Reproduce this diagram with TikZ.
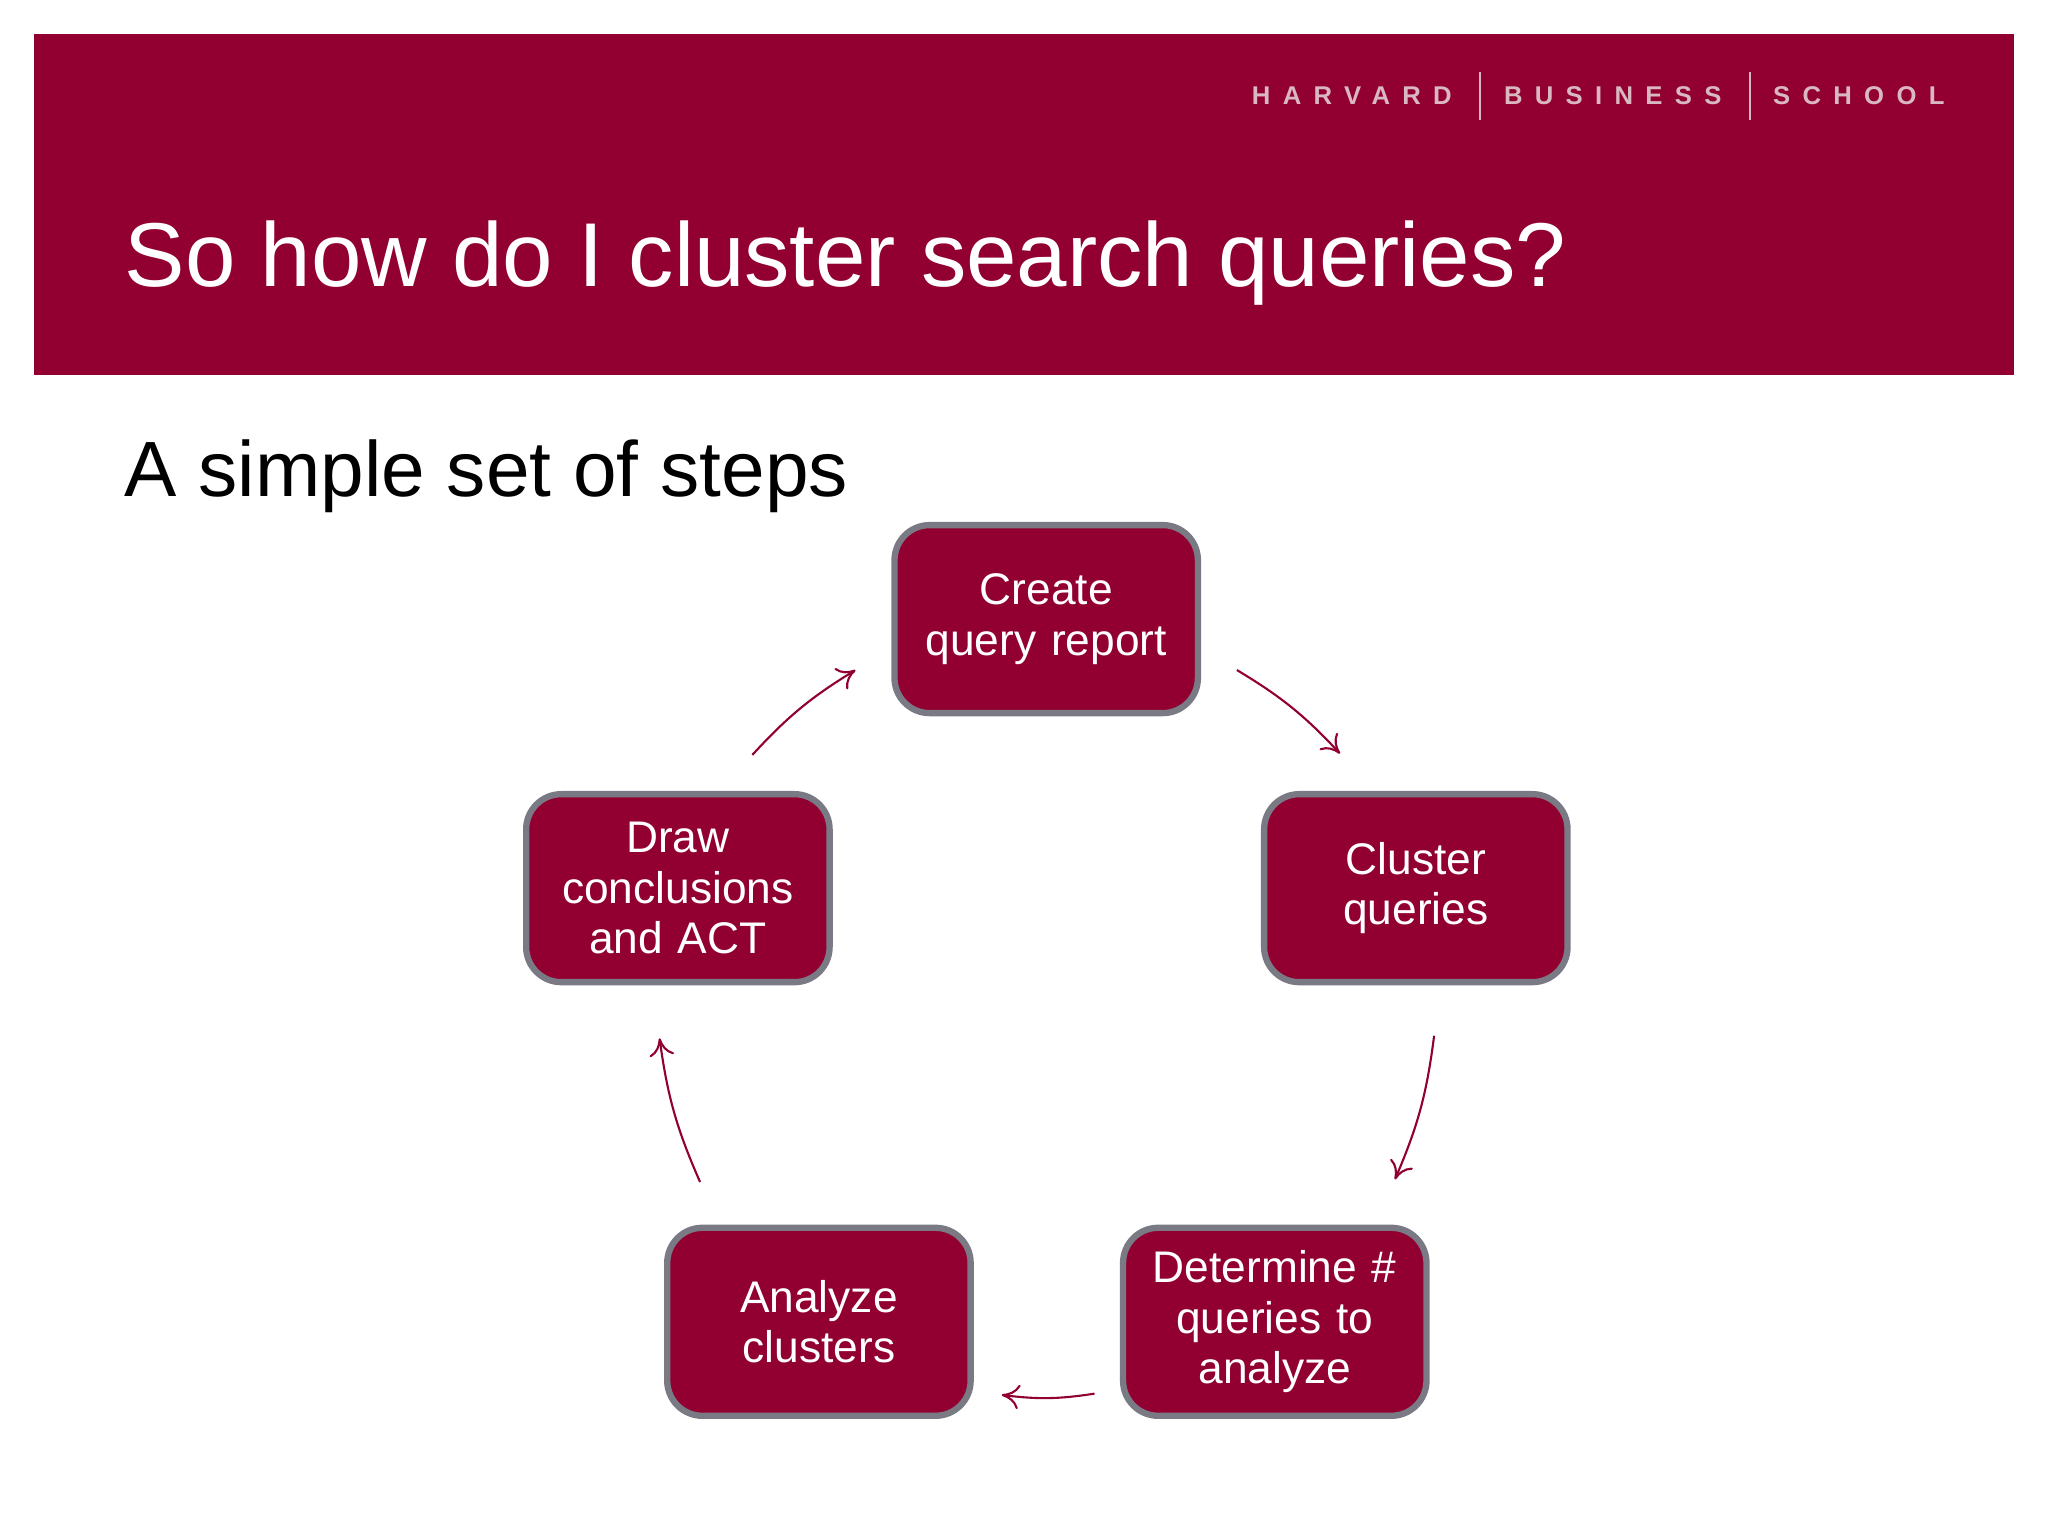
\documentclass[tikz,border=0pt]{standalone}
\usepackage{fontspec}
\setmainfont{Liberation Sans}
\usetikzlibrary{positioning,arrows.meta}
\definecolor{hbsred}{HTML}{910030}
\definecolor{hbsgray}{HTML}{7A7A84}
\definecolor{hbslogo}{HTML}{D9B8C2}
\tikzset{
  stage/.style={draw=hbsgray, line width=1.8pt, fill=hbsred, rounded corners=10pt,
    minimum width=2.92cm, minimum height=1.88cm, text width=2.8cm, align=center,
    text=white, font=\fontsize{12.6}{14.3}\selectfont},
  flow/.style={-{To[length=5pt,width=7pt]}, hbsred, line width=0.6pt},
  logo/.style={text=hbslogo, inner sep=0, font=\fontsize{7.3}{9}\bfseries\addfontfeature{LetterSpace=48}}
}
\begin{document}
\begin{tikzpicture}[x=0.013061cm, y=-0.013061cm]
  \useasboundingbox[fill=white] (0,0) rectangle (1568,1176);

  %Kopfzeile
  \fill[hbsred] (26,26) rectangle (1542,287);
  \node[logo, anchor=west] (harvard) at (958,73) {HARVARD};
  \node[logo, anchor=west] (business) at (1151,73) {BUSINESS};
  \node[logo, anchor=west] (school) at (1357,73) {SCHOOL};
  \draw[hbslogo, line width=0.6pt] (1133,55) -- (1133,92);
  \draw[hbslogo, line width=0.6pt] (1340,55) -- (1340,92);
  \node[anchor=base west, text=white, font=\fontsize{25.8}{30}\selectfont, inner sep=0] (title) at (95,219) {So how do I cluster search queries?};
  \node[anchor=base west, font=\fontsize{22.3}{26}\selectfont, inner sep=0] (subtitle) at (95,380) {A simple set of steps};

  %Schritte
  \node[stage] (create) at (801,474) {Create\\query report};
  \node[stage] (cluster) at (1084,680) {Cluster\\queries};
  \node[stage] (determine) at (976,1012) {Determine \#\\queries to\\analyze};
  \node[stage] (analyze) at (627,1012) {Analyze\\clusters};
  \node[stage] (draw) at (519,680) {Draw\\conclusions\\and ACT};

  %Pfeile
  \coordinate (a1) at (947,513);  \coordinate (a2) at (1026,577);
  \coordinate (b1) at (1098,793); \coordinate (b2) at (1068,903);
  \coordinate (c1) at (838,1067); \coordinate (c2) at (767,1068);
  \coordinate (d1) at (536,905);  \coordinate (d2) at (505,795);
  \coordinate (e1) at (576,578);  \coordinate (e2) at (655,513);
  \draw[flow] (a1) to[bend left=8] (a2);
  \draw[flow] (b1) to[bend left=8] (b2);
  \draw[flow] (c1) to[bend left=8] (c2);
  \draw[flow] (d1) to[bend left=8] (d2);
  \draw[flow] (e1) to[bend left=8] (e2);
\end{tikzpicture}
\end{document}
